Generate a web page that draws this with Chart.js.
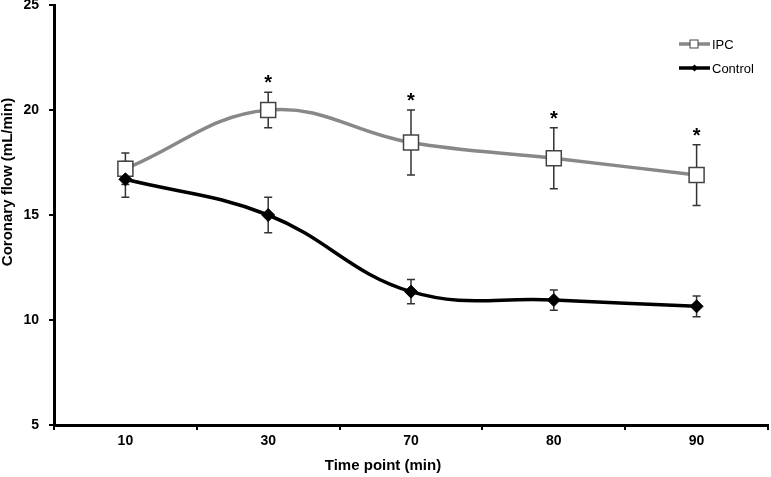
<!DOCTYPE html>
<html>
<head>
<meta charset="utf-8">
<script src="https://cdn.jsdelivr.net/npm/chart.js@4.4.1/dist/chart.umd.min.js"></script>
<style>
    html, body { margin: 0; padding: 0; background: #fff; }
    #wrap { width: 771px; height: 477px; }
</style>
</head>
<body>
<div id="wrap"><canvas id="flowChart" width="771" height="477"></canvas></div>
<script>
// Coronary flow over time, IPC vs Control (mean +/- error)
const timePoints = ['10', '30', '70', '80', '90'];
const ipcMean = [17.2, 20.0, 18.45, 17.7, 16.9];
const ipcErr = [0.75, 0.85, 1.55, 1.45, 1.45];
const controlMean = [16.7, 15.0, 11.35, 10.95, 10.65];
const controlErr = [0.85, 0.85, 0.58, 0.48, 0.49];
const ipcSignificant = [false, true, true, true, true];
const yTicks = [5, 10, 15, 20, 25];

const FONT = "'Liberation Sans', Arial, sans-serif";

// error bars, drawn under the markers
const errorBars = {
    id: 'errorBars',
    beforeDatasetsDraw(chart) {
        const ctx = chart.ctx;
        const y = chart.scales.y;
        ctx.save();
        ctx.strokeStyle = '#333';
        ctx.lineWidth = 1.5;
        chart.data.datasets.forEach(function (ds, i) {
            const meta = chart.getDatasetMeta(i);
            meta.data.forEach(function (pt, j) {
                const top = y.getPixelForValue(ds.data[j] + ds.errors[j]);
                const bot = y.getPixelForValue(ds.data[j] - ds.errors[j]);
                ctx.beginPath();
                ctx.moveTo(pt.x, top);
                ctx.lineTo(pt.x, bot);
                ctx.moveTo(pt.x - 4, top);
                ctx.lineTo(pt.x + 4, top);
                ctx.moveTo(pt.x - 4, bot);
                ctx.lineTo(pt.x + 4, bot);
                ctx.stroke();
            });
        });
        ctx.restore();
    }
};

// asterisks, legend and axis titles
const annotations = {
    id: 'annotations',
    afterDraw(chart) {
        const ctx = chart.ctx;
        const y = chart.scales.y;
        ctx.save();

        // significance marks above IPC error bars
        const ipcMeta = chart.getDatasetMeta(0);
        ctx.fillStyle = '#000';
        ctx.font = 'bold 20px ' + FONT;
        ctx.textAlign = 'center';
        ctx.textBaseline = 'alphabetic';
        ipcMeta.data.forEach(function (pt, j) {
            if (!ipcSignificant[j]) return;
            const top = y.getPixelForValue(ipcMean[j] + ipcErr[j]);
            ctx.fillText('*', pt.x, top - 3);
        });

        // legend
        const entries = [
            { label: 'IPC', color: '#888', style: 'square', y: 44 },
            { label: 'Control', color: '#000', style: 'diamond', y: 68 }
        ];
        entries.forEach(function (e) {
            ctx.strokeStyle = e.color;
            ctx.lineWidth = 3.5;
            ctx.beginPath();
            ctx.moveTo(679, e.y);
            ctx.lineTo(710, e.y);
            ctx.stroke();
            if (e.style === 'square') {
                ctx.fillStyle = '#fff';
                ctx.fillRect(690, e.y - 4, 8, 8);
                ctx.strokeStyle = '#444';
                ctx.lineWidth = 1;
                ctx.strokeRect(690, e.y - 4, 8, 8);
            } else {
                ctx.fillStyle = '#000';
                ctx.beginPath();
                ctx.moveTo(694.5, e.y - 3.5);
                ctx.lineTo(698, e.y);
                ctx.lineTo(694.5, e.y + 3.5);
                ctx.lineTo(691, e.y);
                ctx.closePath();
                ctx.fill();
            }
            ctx.fillStyle = '#000';
            ctx.font = '13px ' + FONT;
            ctx.textAlign = 'left';
            ctx.textBaseline = 'middle';
            ctx.fillText(e.label, 712, e.y + 1);
        });

        // axis titles
        ctx.font = 'bold 15px ' + FONT;
        ctx.textAlign = 'center';
        ctx.textBaseline = 'middle';
        ctx.fillText('Time point (min)', 383, 466);
        ctx.translate(8, 182);
        ctx.rotate(-Math.PI / 2);
        ctx.fillText('Coronary flow (mL/min)', 0, 0);

        ctx.restore();
    }
};

document.addEventListener('DOMContentLoaded', function () {
    const canvas = document.getElementById('flowChart');
    new Chart(canvas, {
        type: 'line',
        data: {
            labels: timePoints,
            datasets: [{
                label: 'IPC',
                data: ipcMean,
                errors: ipcErr,
                order: 1,
                borderColor: '#888',
                borderWidth: 3.5,
                tension: 0.4,
                pointStyle: 'rect',
                pointRadius: 10.6,
                pointBackgroundColor: '#fff',
                pointBorderColor: '#444',
                pointBorderWidth: 1.5
            }, {
                label: 'Control',
                data: controlMean,
                errors: controlErr,
                order: 0,
                borderColor: '#000',
                borderWidth: 3.5,
                tension: 0.4,
                pointStyle: 'rectRot',
                pointRadius: 6.5,
                pointBackgroundColor: '#000',
                pointBorderColor: '#000',
                pointBorderWidth: 1
            }]
        },
        options: {
            responsive: false,
            animation: false,
            layout: {
                autoPadding: false,
                padding: { top: 5, right: 3, left: 0, bottom: 0 }
            },
            plugins: {
                legend: { display: false },
                tooltip: { enabled: false }
            },
            scales: {
                x: {
                    offset: true,
                    afterFit: function (scale) {
                        scale.height = 52;
                        scale.paddingLeft = 0;
                        scale.paddingRight = 0;
                    },
                    border: { color: '#000', width: 3 },
                    grid: {
                        offset: true,
                        drawOnChartArea: false,
                        drawTicks: true,
                        tickLength: 5,
                        color: '#000',
                        lineWidth: 2
                    },
                    ticks: {
                        color: '#000',
                        padding: 3,
                        font: { family: FONT, size: 14, weight: 'bold' }
                    }
                },
                y: {
                    min: 5,
                    max: 25,
                    afterFit: function (scale) {
                        scale.width = 54;
                        scale.paddingTop = 0;
                        scale.paddingBottom = 0;
                    },
                    afterBuildTicks: function (scale) {
                        scale.ticks = yTicks.map(function (v) { return { value: v }; });
                    },
                    border: { color: '#000', width: 3 },
                    grid: {
                        drawOnChartArea: false,
                        drawTicks: true,
                        tickLength: 5,
                        color: '#000',
                        lineWidth: 2
                    },
                    ticks: {
                        color: '#000',
                        padding: 10,
                        font: { family: FONT, size: 14, weight: 'bold' }
                    }
                }
            }
        },
        plugins: [errorBars, annotations]
    });
});
</script>
</body>
</html>
